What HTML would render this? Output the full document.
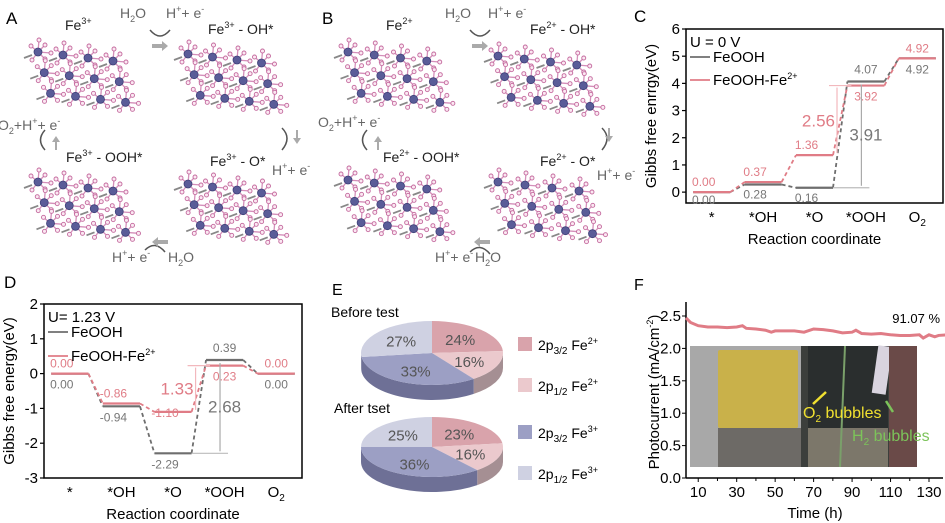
<!DOCTYPE html>
<html><head><meta charset="utf-8"><style>
body{margin:0;background:#fff}
svg{display:block;font-family:"Liberation Sans",sans-serif}
</style></head><body>
<svg id="fig" width="945" height="523" viewBox="0 0 945 523">
<g id="panelAB">
<text x="6" y="24" font-size="17">A</text>
<text x="322" y="24" font-size="17">B</text>
<g font-size="14" fill="#222">
<text x="65" y="30">Fe<tspan font-size="9" dy="-6">3+</tspan></text>
<text x="208" y="34">Fe<tspan font-size="9" dy="-6">3+</tspan><tspan dy="6"> - OH*</tspan></text>
<text x="66" y="162">Fe<tspan font-size="9" dy="-6">3+</tspan><tspan dy="6"> - OOH*</tspan></text>
<text x="210" y="166">Fe<tspan font-size="9" dy="-6">3+</tspan><tspan dy="6"> - O*</tspan></text>
<text x="386" y="30">Fe<tspan font-size="9" dy="-6">2+</tspan></text>
<text x="530" y="34">Fe<tspan font-size="9" dy="-6">2+</tspan><tspan dy="6"> - OH*</tspan></text>
<text x="383" y="162">Fe<tspan font-size="9" dy="-6">2+</tspan><tspan dy="6"> - OOH*</tspan></text>
<text x="540" y="166">Fe<tspan font-size="9" dy="-6">2+</tspan><tspan dy="6"> - O*</tspan></text>
</g>
<g font-size="14" fill="#666">
<text x="120" y="18">H<tspan font-size="9" dy="4">2</tspan><tspan dy="-4">O</tspan></text>
<text x="166" y="18">H<tspan font-size="9" dy="-6">+</tspan><tspan dy="6">+ e</tspan><tspan font-size="9" dy="-6">-</tspan></text>
<text x="-2" y="130">O<tspan font-size="9" dy="4">2</tspan><tspan dy="-4">+H</tspan><tspan font-size="9" dy="-6">+</tspan><tspan dy="6">+ e</tspan><tspan font-size="9" dy="-6">-</tspan></text>
<text x="272" y="175">H<tspan font-size="9" dy="-6">+</tspan><tspan dy="6">+ e</tspan><tspan font-size="9" dy="-6">-</tspan></text>
<text x="112" y="262">H<tspan font-size="9" dy="-6">+</tspan><tspan dy="6">+ e</tspan><tspan font-size="9" dy="-6">-</tspan></text>
<text x="168" y="262">H<tspan font-size="9" dy="4">2</tspan><tspan dy="-4">O</tspan></text>
<text x="445" y="18">H<tspan font-size="9" dy="4">2</tspan><tspan dy="-4">O</tspan></text>
<text x="488" y="18">H<tspan font-size="9" dy="-6">+</tspan><tspan dy="6">+ e</tspan><tspan font-size="9" dy="-6">-</tspan></text>
<text x="318" y="127">O<tspan font-size="9" dy="4">2</tspan><tspan dy="-4">+H</tspan><tspan font-size="9" dy="-6">+</tspan><tspan dy="6">+ e</tspan><tspan font-size="9" dy="-6">-</tspan></text>
<text x="597" y="180">H<tspan font-size="9" dy="-6">+</tspan><tspan dy="6">+ e</tspan><tspan font-size="9" dy="-6">-</tspan></text>
<text x="435" y="262">H<tspan font-size="9" dy="-6">+</tspan><tspan dy="6">+ e</tspan><tspan font-size="9" dy="-6">-</tspan></text>
<text x="475" y="262">H<tspan font-size="9" dy="4">2</tspan><tspan dy="-4">O</tspan></text>
</g>
<g id="crystals"></g>
<g stroke="#555" stroke-width="1.5" fill="none">
<path d="M150 30 Q160 42 170 30"/><path d="M470 30 Q480 42 490 30"/>
<path d="M282 128 Q292 138 282 150"/><path d="M602 128 Q612 138 602 150"/>
<path d="M45 150 Q36 140 45 130"/><path d="M367 150 Q358 140 367 130"/>
<path d="M165 252 Q155 240 145 250"/><path d="M490 254 Q480 242 470 252"/>
</g>
<g fill="#aaa">
<path d="M152 44 l10 0 l0 -3 l6 5 l-6 5 l0 -3 l-10 0z"/><path d="M472 44 l10 0 l0 -3 l6 5 l-6 5 l0 -3 l-10 0z"/>
<path d="M296 130 l0 8 l-3 0 l4 6 l4 -6 l-3 0 l0 -8z"/><path d="M608 128 l0 8 l-3 0 l4 6 l4 -6 l-3 0 l0 -8z"/>
<path d="M55 150 l0 -8 l-3 0 l4 -6 l4 6 l-3 0 l0 8z"/><path d="M377 150 l0 -8 l-3 0 l4 -6 l4 6 l-3 0 l0 8z"/>
<path d="M168 240 l-10 0 l0 -3 l-6 5 l6 5 l0 -3 l10 0z"/><path d="M490 240 l-10 0 l0 -3 l-6 5 l6 5 l0 -3 l10 0z"/>
</g>
</g>

<g id="panelC">
<text x="634" y="22" font-size="17">C</text>
</g>
<g id="panelD">
<text x="4" y="288" font-size="17">D</text>
</g>
<g id="panelE">
<text x="332" y="295" font-size="16">E</text>
<text x="331" y="317" font-size="14">Before test</text>
<text x="334" y="413" font-size="14">After tset</text>
</g>
<g id="panelF">
<text x="634" y="290" font-size="16">F</text>
<g>
<rect x="690" y="346" width="111" height="121" fill="#a8a8a8"/>
<rect x="718" y="350" width="80" height="78" fill="#c9b14a" rx="2"/>
<rect x="718" y="428" width="83" height="39" fill="#6d6a66"/>
<rect x="801" y="346" width="116" height="121" fill="#3c3f3c"/>
<rect x="808" y="346" width="80" height="82" fill="#2a2e2e"/>
<rect x="808" y="428" width="80" height="39" fill="#7c776a"/>
<rect x="875" y="346" width="14" height="48" fill="#d9d4df" transform="rotate(8 882 370)"/>
<rect x="889" y="346" width="28" height="121" fill="#6a4a48"/>
<line x1="845" y1="346" x2="840" y2="467" stroke="#7aa06a" stroke-width="2"/>
<line x1="813" y1="404" x2="826" y2="392" stroke="#f0e030" stroke-width="2.5"/>
<line x1="893" y1="412" x2="886" y2="401" stroke="#7cc35a" stroke-width="2.5"/>
<text x="803" y="418" font-size="16" fill="#f0e030">O<tspan font-size="10" dy="4">2</tspan><tspan dy="-4"> bubbles</tspan></text>
<text x="852" y="441" font-size="16" fill="#7cc35a">H<tspan font-size="10" dy="4">2</tspan><tspan dy="-4"> bubbles</tspan></text>
</g>
</g>
</svg>
<script>
const NS='http://www.w3.org/2000/svg';
function mk(tag,attrs,parent,txt){const e=document.createElementNS(NS,tag);for(const k in attrs)e.setAttribute(k,attrs[k]);if(txt!==undefined)e.textContent=txt;parent.appendChild(e);return e;}

// ---------- data ----------
const steps=['*','*OH','*O','*OOH','O2'];
const feoohC=[0.00,0.28,0.16,4.07,4.92];
const fe2C=[0.00,0.37,1.36,3.92,4.92];
const feoohD=[0.00,-0.94,-2.29,0.39,0.00];
const fe2D=[0.00,-0.86,-1.10,0.23,0.00];
const yTicksC=[0,1,2,3,4,5,6];
const yTicksD=[-3,-2,-1,0,1,2];
const pieLabels=['2p3/2 Fe2+','2p1/2 Fe2+','2p3/2 Fe3+','2p1/2 Fe3+'];
const pieBefore=[24,16,33,27];
const pieAfter=[23,16,36,25];
const timeH=[3,6,10,15,20,25,30,33,35,40,45,48,50,55,60,65,70,75,80,85,90,92,95,100,105,110,115,120,125,127,130,133,135,140];
const current=[2.47,2.40,2.35,2.33,2.33,2.32,2.33,2.35,2.31,2.30,2.28,2.25,2.27,2.27,2.27,2.25,2.30,2.29,2.27,2.24,2.25,2.28,2.23,2.22,2.23,2.21,2.20,2.20,2.21,2.16,2.21,2.18,2.20,2.21];
const xTicksF=[10,30,50,70,90,110,130];
const yTicksF=[0.0,0.5,1.0,1.5,2.0,2.5];

const GREY='#6e6e6e',PINK='#e07c86';

// ---------- crystals (decorative) ----------
const cr=document.getElementById('crystals');
function crystal(ox,oy,w,h){
  const g=mk('g',{},cr);
  
  
  const cols=4,rows=3,dx=w/cols,dy=h/rows;
  for(let r=0;r<rows;r++)for(let c=0;c<cols;c++){
    const x=ox+c*dx+r*dx*0.25+6,y=oy+r*dy+8+c*3;
    const pts=[[x-7,y-6],[x+7,y-7],[x+7,y+7],[x-6,y+8],[x+1,y-12],[x+13,y+1]];
    pts.forEach(p=>mk('line',{x1:x,y1:y,x2:p[0],y2:p[1],stroke:'#d48fba','stroke-width':1.3},g));
    mk('line',{x1:x-14,y1:y+6,x2:x-6,y2:y+3,stroke:'#888','stroke-width':1.8},g);
    pts.forEach(p=>mk('circle',{cx:p[0],cy:p[1],r:2,fill:'#fbe8f2',stroke:'#c46a9e','stroke-width':0.9},g));
    mk('circle',{cx:x,cy:y,r:4,fill:'#5a5c98',stroke:'#3e4078','stroke-width':0.8},g);
  }
}
[[32,44,100,62],[182,46,98,62],[32,174,100,62],[182,176,98,62],[342,44,105,62],[492,48,105,62],[342,172,105,64],[492,174,108,64]].forEach(a=>crystal(a[0],a[1],a[2],a[3]));

// ---------- energy diagrams ----------
function energy(gid,L,R,T,B,ymin,ymax,ticks,seriesG,seriesP,vLabelsG,vLabelsP,info,legendY){
  const g=document.getElementById(gid);
  const y=v=>B-(v-ymin)/(ymax-ymin)*(B-T);
  const segW=(R-L)/steps.length;
  const cx=i=>L+segW*(i+0.5);
  const half=segW*0.36;
  mk('rect',{x:L,y:T,width:R-L,height:B-T,fill:'none',stroke:'#000','stroke-width':1.5},g);
  ticks.forEach(t=>{
    const tk=mk('line',{x1:L-4,x2:L,y1:y(t),y2:y(t),stroke:'#000','stroke-width':1.2},g);
    
    const tl=mk('text',{x:L-6,y:y(t)+5,'font-size':15,'text-anchor':'end'},g,t);
    
  });
  steps.forEach((s,i)=>{
    const t=mk('text',{x:cx(i),y:B+19,'font-size':15,'text-anchor':'middle'},g,s==='O2'?'O':s);
    if(s==='O2')mk('tspan',{'font-size':10,dy:4},t,'2');
    
  });
  const xl=mk('text',{x:(L+R)/2,y:B+41,'font-size':15,'text-anchor':'middle'},g,'Reaction coordinate');
  
  const yl=mk('text',{x:0,y:0,'font-size':15,'text-anchor':'middle',transform:`translate(${L-30},${(T+B)/2}) rotate(-90)`},g,info.ylab);
  
  [[seriesG,GREY,'feooh'],[seriesP,PINK,'feooh-fe2']].forEach(([arr,col,nm])=>{
    arr.forEach((v,i)=>{
      const ln=mk('line',{x1:Math.max(cx(i)-half,L),x2:Math.min(cx(i)+half,R),y1:y(v),y2:y(v),stroke:col,'stroke-width':2.2},g);
      
      if(i>0){
        const c=mk('line',{x1:cx(i-1)+half,y1:y(arr[i-1]),x2:cx(i)-half,y2:y(v),stroke:col,'stroke-width':1.8,'stroke-dasharray':'4,3'},g);
        
      }
    });
  });
  seriesG.forEach((v,i)=>{
    const o=vLabelsG[i];
    const t=mk('text',{x:cx(i)+o[0],y:y(v)+o[1],'font-size':12,fill:'#777','text-anchor':'middle'},g,v.toFixed(2));
    
  });
  seriesP.forEach((v,i)=>{
    const o=vLabelsP[i];
    const t=mk('text',{x:cx(i)+o[0],y:y(v)+o[1],'font-size':12,fill:PINK,'text-anchor':'middle'},g,v.toFixed(2));
    
  });
  mk('text',{x:L+4,y:T+18,'font-size':15},g,info.u);
  mk('line',{x1:L+4,x2:L+24,y1:legendY[0],y2:legendY[0],stroke:GREY,'stroke-width':1.8},g);
  const l1=mk('text',{x:L+27,y:legendY[0]+5,'font-size':15},g,'FeOOH');
  
  mk('line',{x1:L+4,x2:L+24,y1:legendY[1],y2:legendY[1],stroke:PINK,'stroke-width':1.8},g);
  const l2=mk('text',{x:L+27,y:legendY[1]+5,'font-size':15},g,'FeOOH-Fe');
  mk('tspan',{'font-size':9,dy:-6},l2,'2+');
  
  const ax=cx(2)+half+4, bx=cx(3)-half+14;
  mk('line',{x1:cx(2)+half-4,x2:cx(3)-half+4,y1:y(seriesP[3]),y2:y(seriesP[3]),stroke:'#f2b8bd','stroke-width':1.2},g);
  mk('line',{x1:ax,x2:ax,y1:y(seriesP[3])+2,y2:y(seriesP[2])-2,stroke:'#f2b8bd','stroke-width':1.2},g);
  const dp=(seriesP[3]-seriesP[2]);
  const t1=mk('text',{x:ax-2,y:(y(seriesP[3])+y(seriesP[2]))/2+6,'font-size':17,fill:PINK,'text-anchor':'end'},g,dp.toFixed(2));
  
  mk('line',{x1:cx(2)+half,x2:bx+8,y1:y(seriesG[2]),y2:y(seriesG[2]),stroke:'#bbb','stroke-width':1.2},g);
  mk('line',{x1:bx,x2:bx,y1:y(seriesG[3])+3,y2:y(seriesG[2])-2,stroke:'#aaa','stroke-width':1.2},g);
  const dg=(seriesG[3]-seriesG[2]);
  const t2=mk('text',{x:bx-12,y:(y(seriesG[3])+y(seriesG[2]))/2+6,'font-size':17,fill:'#777'},g,dg.toFixed(2));
  
}
energy('panelC',686,943,29,203,-0.4,6,yTicksC,feoohC,fe2C,
  [[-8,12],[-8,14],[-8,14],[0,-8],[0,15]],[[-8,-6],[-8,-6],[-8,-6],[0,15],[0,-6]],
  {ylab:'Gibbs free enrrgy(eV)',u:'U = 0 V'},[57,80]);
energy('panelD',44,302,304,478,-3,2,yTicksD,feoohD,fe2D,
  [[-8,15],[-8,15],[-8,15],[0,-8],[0,15]],[[-8,-6],[-8,-6],[-8,5],[0,15],[0,-6]],
  {ylab:'Gibbs free energy(eV)',u:'U= 1.23 V'},[332,356]);

// ---------- pies ----------
const pieCols=['#d9a3ab','#ebc9cd','#9c9fc4','#cfd1e2'];
const pieSide=['#9c8088','#a58f93','#6e7096','#8f91ad'];
const E=document.getElementById('panelE');
function pie(vals,cx,cy,rx,ry,h,name){
  const g=mk('g',{},E);
  
  const tot=vals.reduce((a,b)=>a+b,0);
  let a0=-Math.PI/2;const angs=[];
  vals.forEach(v=>{const a1=a0+v/tot*2*Math.PI;angs.push([a0,a1]);a0=a1;});
  const P=(a,dy)=>[cx+rx*Math.cos(a),cy+ry*Math.sin(a)+(dy||0)];
  angs.forEach(([s,e],i)=>{
    const s2=Math.max(s,0),e2=Math.min(e,Math.PI);
    if(e2>s2){
      const side=mk('path',{d:`M${P(s2)} A${rx},${ry} 0 0 1 ${P(e2)} L${P(e2,h)} A${rx},${ry} 0 0 0 ${P(s2,h)} Z`,fill:pieSide[i]},g);
      
    }
  });
  angs.forEach(([s,e],i)=>{
    const large=(e-s)>Math.PI?1:0;
    const sl=mk('path',{d:`M${cx},${cy} L${P(s)} A${rx},${ry} 0 ${large} 1 ${P(e)} Z`,fill:pieCols[i]},g);
    
    const m=(s+e)/2;
    const t=mk('text',{x:cx+rx*0.58*Math.cos(m),y:cy+ry*0.6*Math.sin(m)+6,'font-size':15,fill:'#555','text-anchor':'middle'},g,vals[i]+'%');
    
  });
}
pie(pieBefore,432,353,71,32,15,'pie-before-test');
pie(pieAfter,432,447,71,30,15,'pie-after-test');
const legY=[345,386,433,474];
const sub=['3/2','1/2','3/2','1/2'],ion=['2+','2+','3+','3+'];
pieLabels.forEach((lb,i)=>{
  const r=mk('rect',{x:518,y:legY[i]-8,width:14,height:14,fill:pieCols[i]},E);
  
  const t=mk('text',{x:538,y:legY[i]+5,'font-size':14},E,'2p');
  mk('tspan',{'font-size':10,dy:4},t,sub[i]);
  mk('tspan',{dy:-4},t,' Fe');
  mk('tspan',{'font-size':9,dy:-6},t,ion[i]);
  
});

// ---------- photocurrent ----------
const F=document.getElementById('panelF');
const fL=686,fR=943,fT=302,fB=478;
const fx=v=>679+v*(929-679)/130;
const fy=v=>fB-v/2.5*(fB-316);
mk('line',{x1:fL,y1:fT,x2:fL,y2:fB,stroke:'#000','stroke-width':1.5},F);
mk('line',{x1:fL,y1:fB,x2:fR,y2:fB,stroke:'#000','stroke-width':1.5},F);
yTicksF.forEach(t=>{
  mk('line',{x1:fL-4,x2:fL,y1:fy(t),y2:fy(t),stroke:'#000'},F);
  const tl=mk('text',{x:fL-5,y:fy(t)+5,'font-size':15,'text-anchor':'end'},F,t.toFixed(1));
  
});
xTicksF.forEach(t=>{
  mk('line',{x1:fx(t),x2:fx(t),y1:fB,y2:fB+4,stroke:'#000'},F);
  if(fx(t+10)<fR)mk('line',{x1:fx(t+10),x2:fx(t+10),y1:fB,y2:fB+3,stroke:'#000'},F);
  const tl=mk('text',{x:fx(t),y:fB+19,'font-size':15,'text-anchor':'middle'},F,String(t));
  
});
const xt=mk('text',{x:815,y:518,'font-size':15,'text-anchor':'middle'},F,'Time (h)');

const yt=mk('text',{x:0,y:0,'font-size':15,'text-anchor':'middle',transform:'translate(659,392) rotate(-90)'},F,'Photocurrent (mA/cm');
mk('tspan',{'font-size':9,dy:-6},yt,'-2');mk('tspan',{dy:6},yt,')');

const pts=timeH.map((t,i)=>[Math.max(fL,fx(t)),fy(current[i])]);
const line=mk('polyline',{points:pts.map(p=>p.join(',')).join(' '),fill:'none',stroke:'#e07c86','stroke-width':3},F);

const pc=mk('text',{x:940,y:323,'font-size':13,'text-anchor':'end'},F,'91.07 %');

</script>
</body></html>
